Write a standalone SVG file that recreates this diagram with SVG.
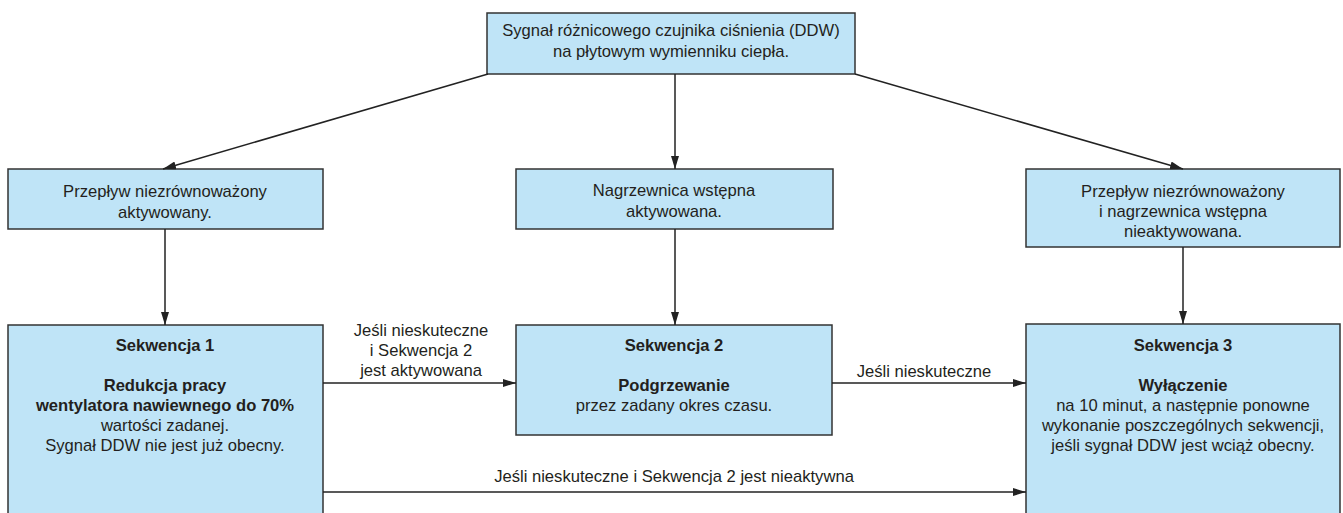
<svg xmlns="http://www.w3.org/2000/svg" width="1343" height="513" viewBox="0 0 1343 513">
<defs>
<style>
.box{fill:#bfe4f7;stroke:#333;stroke-width:1.5}
text{font-family:"Liberation Sans",Arial,sans-serif;font-size:16.6px;fill:#231f20;text-anchor:middle}
.b{font-weight:bold}
.c{stroke:#222;stroke-width:1.5;fill:none}
</style>
<marker id="ah" viewBox="0 0 13 8" refX="13" refY="4" markerWidth="13" markerHeight="8" markerUnits="userSpaceOnUse" orient="auto">
<path d="M0,0 L13,4 L0,8 Z" fill="#222"/>
</marker>
</defs>
<rect width="1343" height="513" fill="#fff"/>
<g id="top">
<rect class="box" x="487" y="13" width="368" height="61"/>
<text x="671" y="36">Sygnał różnicowego czujnika ciśnienia (DDW)</text>
<text x="671" y="57">na płytowym wymienniku ciepła.</text>
</g>
<g id="left">
<rect class="box" x="8" y="169" width="315" height="60"/>
<text x="165" y="197">Przepływ niezrównoważony</text>
<text x="165" y="218">aktywowany.</text>
</g>
<g id="mid">
<rect class="box" x="516" y="169" width="317" height="60"/>
<text x="674" y="196">Nagrzewnica wstępna</text>
<text x="674" y="217">aktywowana.</text>
</g>
<g id="right">
<rect class="box" x="1026" y="169" width="314" height="78"/>
<text x="1183" y="197">Przepływ niezrównoważony</text>
<text x="1183" y="217">i nagrzewnica wstępna</text>
<text x="1183" y="237">nieaktywowana.</text>
</g>
<g id="seq1">
<rect class="box" x="8" y="325" width="315" height="200"/>
<text class="b" x="165" y="351">Sekwencja 1</text>
<text class="b" x="165" y="391">Redukcja pracy</text>
<text class="b" x="165" y="411">wentylatora nawiewnego do 70%</text>
<text x="165" y="431">wartości zadanej.</text>
<text x="165" y="451">Sygnał DDW nie jest już obecny.</text>
</g>
<g id="seq2">
<rect class="box" x="516" y="325" width="316" height="110"/>
<text class="b" x="674" y="351">Sekwencja 2</text>
<text class="b" x="674" y="391">Podgrzewanie</text>
<text x="674" y="411">przez zadany okres czasu.</text>
</g>
<g id="seq3">
<rect class="box" x="1026" y="324" width="314" height="200"/>
<text class="b" x="1183" y="351">Sekwencja 3</text>
<text class="b" x="1183" y="391">Wyłączenie</text>
<text x="1183" y="411">na 10 minut, a następnie ponowne</text>
<text x="1183" y="431">wykonanie poszczególnych sekwencji,</text>
<text x="1183" y="451">jeśli sygnał DDW jest wciąż obecny.</text>
</g>
<g id="connectors">
<line class="c" x1="488" y1="74" x2="163" y2="169" marker-end="url(#ah)"/>
<line class="c" x1="675" y1="74" x2="675" y2="169" marker-end="url(#ah)"/>
<line class="c" x1="855" y1="74" x2="1183" y2="169" marker-end="url(#ah)"/>
<line class="c" x1="165" y1="229" x2="165" y2="325" marker-end="url(#ah)"/>
<line class="c" x1="675" y1="229" x2="675" y2="325" marker-end="url(#ah)"/>
<line class="c" x1="1183" y1="247" x2="1183" y2="324" marker-end="url(#ah)"/>
<line class="c" x1="323" y1="383" x2="516" y2="383" marker-end="url(#ah)"/>
<line class="c" x1="832" y1="383" x2="1026" y2="383" marker-end="url(#ah)"/>
<line class="c" x1="323" y1="492" x2="1026" y2="492" marker-end="url(#ah)"/>
<text x="421" y="336">Jeśli nieskuteczne</text>
<text x="421" y="356">i Sekwencja 2</text>
<text x="421" y="376">jest aktywowana</text>
<text x="924" y="377">Jeśli nieskuteczne</text>
<text x="674" y="482">Jeśli nieskuteczne i Sekwencja 2 jest nieaktywna</text>
</g>
</svg>
